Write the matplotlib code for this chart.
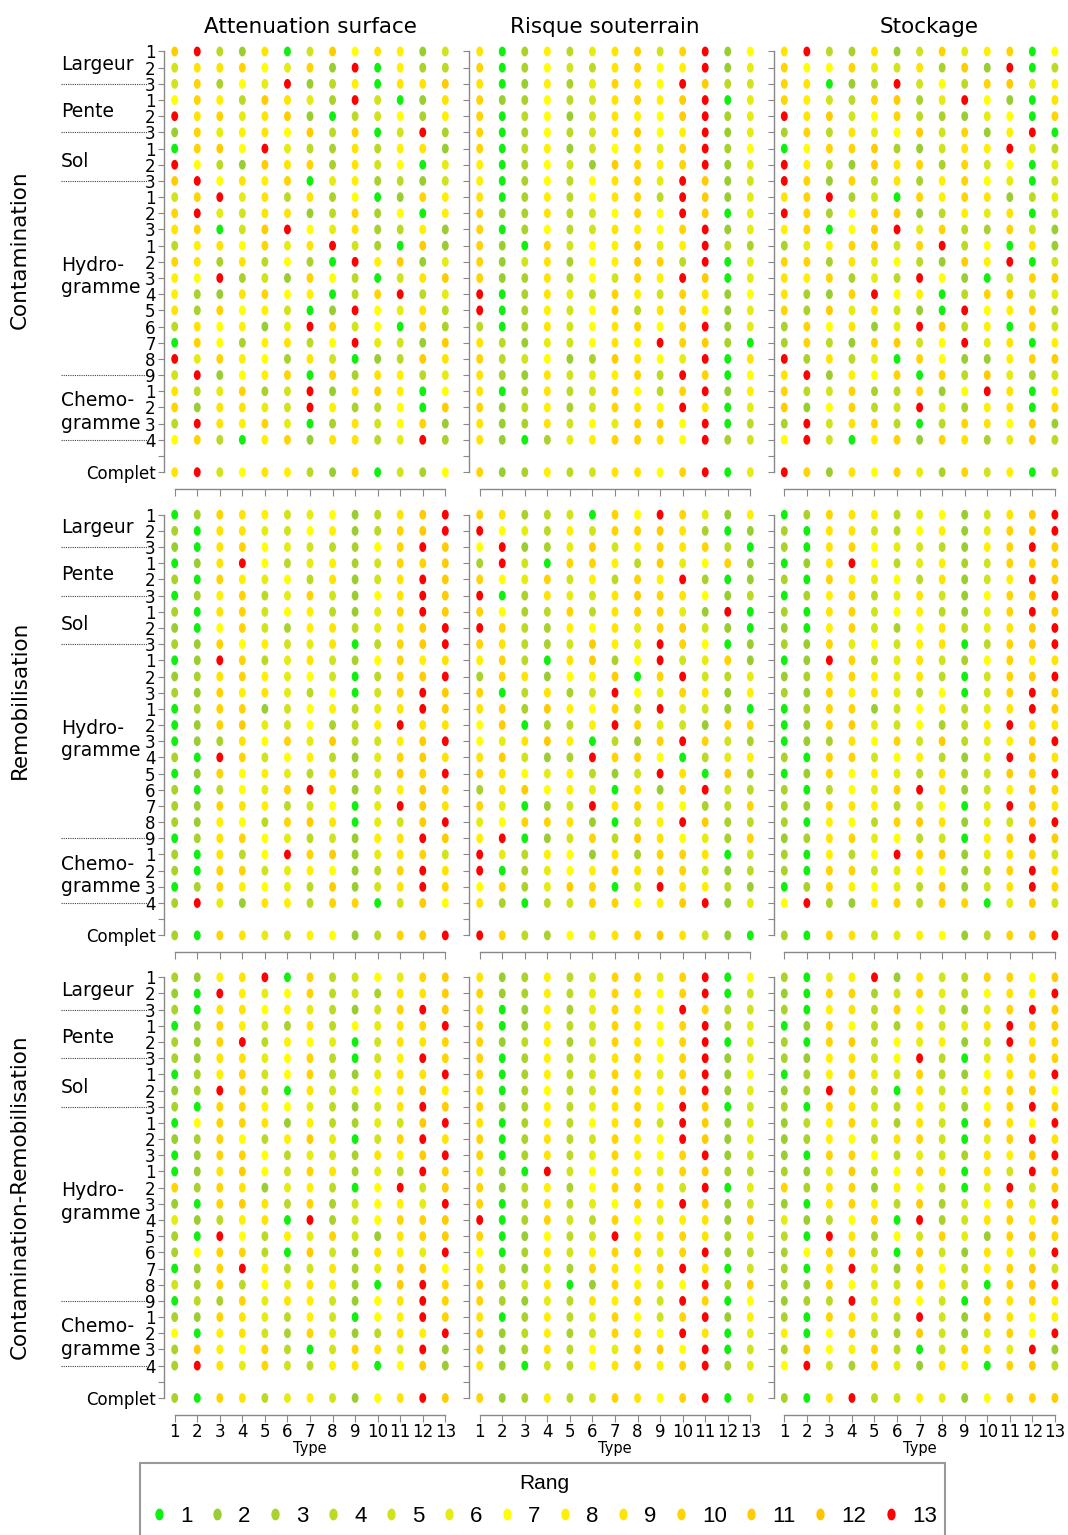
import numpy as np
import matplotlib
matplotlib.use("Agg")
import matplotlib.pyplot as plt
from matplotlib.lines import Line2D
from matplotlib.patches import Rectangle
from matplotlib.path import Path
from matplotlib.transforms import blended_transform_factory

# rank of each type (1..13), one string per parameter row, hex digits (a=10 .. d=13)
# last string of each list is the "Complet" row
CONT_ATT = [
    "bd42915b79825", "599a76a2d1834", "5a376d248199b", "7a84b963d5129", "d9a69b2145738",
    "2a6897b4a15d3", "1ab7d64394892", "d742b9a395716", "bd798a1683425", "5ad69493712a8",
    "ad659924a3718", "9a15bd7693482", "4897a69d531b2", "a9394731d8b26", "87d352a74159b",
    "8329a7814ad46", "93a78512d7694", "497826da571a3", "1a738947d652b", "d6a87395124b9",
    "5d278a1a39846", "946a35d29a817", "a29965d83471b", "4d98a613957a2", "7a418a29946d3",
    "9d579842a1537",
]
CONT_RIS = [
    "9138469a5ad27", "a137549a78d26", "912836a97db45", "a237459a8bd16", "a14725987bd36",
    "a137459b78d26", "a14825796ad37", "813752ba8ad26", "8137479a6db25", "9138479a4db26",
    "a239457a7db16", "a13745987ad26", "a21a578b68d43", "a259378ba4d16", "a239475a8db16",
    "d13964a85a927", "d13857a49a826", "4139579a7ad26", "94265798dab31", "a45723b976d19",
    "9329568a4da17", "913945a74ad28", "a24835a97d916", "9239576ab7d14", "921368aa97d35",
    "a23845997ad16",
]
CONT_STO = [
    "9d43925a68a17", "a77a6593b2d14", "a9123d574ab68", "a854ab36d7219", "d9b57a432671a",
    "3a4967b5a28d1", "17aab32598d64", "d842b9a3a5716", "da2a4938a7615", "9ad351a8a9246",
    "da37ab2486915", "8a17bd6a43a52", "368ab5ad47192", "aa396742b8d15", "98a364d7215ab",
    "932ad7814ab56", "a3b69521d78a4", "3a7926db481a5", "3a42ab57d6918", "d39461a7228ab",
    "9d287a1a4b635", "a45a34a27d918", "b27a45d63891a", "3d59a414a97b2", "7d518a2a936b4",
    "da297a63a5814",
]
REMO_ATT = [
    "13a98567249bd", "3199657824abd", "219a765437adb", "129d746835aab", "31a86749259db",
    "138a46a5279db", "319a578426adb", "217a5389469bd", "32a7856914abd", "12da469537a89",
    "239a867514abd", "32a8964715adb", "13aa2578469db", "12ab657348d99", "12397a6b458bd",
    "31da578426ab9", "12a7864935bad", "31476ad9258ba", "32a9845716db9", "32874ab9165bd",
    "139a7645289db", "31947dab269a5", "31aa568724ad9", "13a8764b259da", "3d62984aa15b7",
    "31a9658724abd",
]
REMO_RIS = [
    "a93451a7da628", "d76485aab9312", "7d236b58a9a41", "3d51aa84b67a2", "a76a584a8d312",
    "d139659ba9724", "a734a49aa62d1", "da438796ab521", "a9435b86da712", "8a419b37d56a2",
    "3a9278b1ad546", "a14935d76a928", "9a3b87a4d6521", "7b1348da652aa", "769b8142ada53",
    "9b523daa71468", "a9768425d91b3", "39b786192ad54", "a6125d9a8734a", "67aa92158db34",
    "8d125a4b9763a", "d6487293aa915", "d13678a9aa524", "7a36ba15d9842", "93145aa78bd26",
    "da43769ab9521",
]
REMO_STO = [
    "13a98467259bd", "3199547826abd", "319a765428adb", "129d746835aab", "31a86749258db",
    "138a469527abd", "319a578426adb", "218a5379469bd", "32a6758914abd", "12da469537a89",
    "239a869415abd", "32a8964715adb", "13aa2578469db", "12ab657348d99", "12397a5b468bd",
    "31aa578426db9", "12a7864935bad", "31476ad9258ba", "32a9845716db9", "31874ab9265bd",
    "239a674518adb", "31847dab269a5", "31aa568724ad9", "13a8764b259da", "7d328a4aa16b5",
    "31a9568724abd",
]
CORE_ATT = [
    "3289d1a4576ab", "21d867a45399b", "3199786425adb", "12a85394769ad", "32ad48761599a",
    "329967a4158da", "138a57a42699d", "23da4195679b8", "31aa8764259db", "17aa9284365bd",
    "23a748b615ad9", "12aa7465398bd", "129b75a9364da", "a3a9268417d5b", "21ab94a35786d",
    "624891d357aab", "31d7486a529ab", "37aa41b52986d", "12ad845936ab7", "53a4769821bda",
    "143a6985279da", "32a96485178da", "718953a62498d", "3b87a415a96d2", "3d96a548917b2",
    "31a94685279db",
]
CORE_RIS = [
    "923845aa6ad17", "a23846a97ad15", "912836a97da45", "a12845a97ad36", "a24835a97ad16",
    "a138459a7ad26", "a13845a96ad27", "913745a98ad26", "a238469a7db15", "9138479a5db26",
    "a13945a87db26", "a13946a87ad25", "921d57986ab34", "a24837ab95d16", "a139467a8db25",
    "d13a54a76892b", "a12745d89a936", "713958aa6ad24", "84263a97ad915", "a35912a867d3b",
    "a326498a5da17", "913846a75ad28", "a24835a97d916", "a239476ab7d15", "9215479a8ad36",
    "a23845a97ad16",
]
CORE_STO = [
    "3168d2954aa7b", "21aa35a64798d", "31894a7526adb", "12a7439569dab", "31ab476825d9a",
    "328957d4169aa", "138a65a42799d", "23da419569ab7", "31a9548627adb", "248a63951b97d",
    "238749a516ad9", "21aa7465398bd", "326b47a9195da", "a39a287416d5b", "219a84b357a6d",
    "6247a1d359a8b", "41d9375a62aba", "37aa41b52986d", "319d62a748ab5", "32a765a841abd",
    "234d69751a9a8", "31a964d52b978", "817a43b526a7d", "3b78a415a96d2", "7d53a62981ab4",
    "319d458627aab",
]

TYPES = list(range(1, 14))
RANKS = list(range(1, 14))
COL_TITLES = ["Attenuation surface", "Risque souterrain", "Stockage"]
ROW_TITLES = ["Contamination", "Remobilisation", "Contamination-Remobilisation"]
PANELS = [
    [CONT_ATT, CONT_RIS, CONT_STO],
    [REMO_ATT, REMO_RIS, REMO_STO],
    [CORE_ATT, CORE_RIS, CORE_STO],
]
GROUPS = ["Largeur", "Pente", "Sol", "Hydro-\ngramme", "Chemo-\ngramme"]
GROUP_TICKS = [["1", "2", "3"], ["1", "2", "3"], ["1", "2", "3"],
               ["1", "2", "3", "1", "2", "3", "4", "5", "6", "7", "8", "9"],
               ["1", "2", "3", "4"]]
RANK_COLORS = ["#0ff00f", "#9acd32", "#a9d22c", "#bcd926", "#d0e31c", "#e6ec12",
               "#ffff00", "#fff000", "#ffe400", "#ffd400", "#ffcc00", "#ffc400", "#ff0000"]

# layout (pixels)
W, H = 1068, 1535
COL_X1 = [174.7, 479.7, 784.3]
ROW_Y1 = [51.5, 514.7, 977.3]
DX, DY = 22.55, 16.18
GROUP_LABEL_Y = [1.8, 4.7, 7.8, 14.9, 23.3]
ROW_TITLE_Y = [250, 700, 1197]
TITLE_X = [310, 605, 929]

t = np.linspace(0, 2 * np.pi, 60)
ELLIPSE = Path(np.column_stack([0.7 * np.cos(t), np.sin(t)]), closed=True)

tick_labels = [lab for grp in GROUP_TICKS for lab in grp] + ["", "Complet"]
n_rows = len(tick_labels)
row_pos = list(range(1, n_rows - 1)) + [n_rows]
sep_rows = np.cumsum([len(g) for g in GROUP_TICKS])

fig = plt.figure(figsize=(W / 100, H / 100), dpi=100)

xlim = (1 - 10.7 / DX, 13.5)
ylim = (n_rows + 17 / DY, 0.5)
ax_w = (xlim[1] - xlim[0]) * DX
ax_h = (ylim[0] - ylim[1]) * DY

for i in range(3):
    for j in range(3):
        left = COL_X1[j] - 10.7
        top = ROW_Y1[i] - 0.5 * DY
        ax = fig.add_axes([left / W, 1 - (top + ax_h) / H, ax_w / W, ax_h / H])
        data = PANELS[i][j]
        xs, ys, cs = [], [], []
        for r, row in enumerate(data):
            for k, ch in enumerate(row):
                xs.append(TYPES[k])
                ys.append(row_pos[r])
                cs.append(RANK_COLORS[int(ch, 16) - 1])
        ax.scatter(xs, ys, s=50, c=cs, marker=ELLIPSE, linewidths=0)
        ax.set_xlim(*xlim)
        ax.set_ylim(*ylim)
        for side in ["top", "right"]:
            ax.spines[side].set_visible(False)
        for side in ["left", "bottom"]:
            ax.spines[side].set_color("#888888")
            ax.spines[side].set_linewidth(1)
        ax.spines["left"].set_bounds(1, n_rows)
        ax.spines["bottom"].set_bounds(1, 13)
        ax.set_yticks(range(1, n_rows + 1))
        ax.set_xticks(TYPES)
        ax.tick_params(axis="y", length=4, width=0.8, color="#888888", pad=2, labelsize=12)
        ax.tick_params(axis="x", length=5, width=0.8, color="#888888", pad=1, labelsize=12)
        if j == 0:
            ax.set_yticklabels(tick_labels)
        else:
            ax.set_yticklabels([])
        if i == 2:
            ax.set_xticklabels([str(v) for v in TYPES])
            ax.set_xlabel("Type", fontsize=10.5, labelpad=0)
        else:
            ax.set_xticklabels([])
        if i == 0:
            ax.set_title(COL_TITLES[j], fontsize=15.5, pad=7.5,
                         x=(TITLE_X[j] - left) / ax_w)

        if j == 0:
            trans = blended_transform_factory(fig.transFigure, ax.transData)
            for g, name in enumerate(GROUPS):
                ax.text(61 / W, GROUP_LABEL_Y[g], name, transform=trans, fontsize=13.5,
                        va="center", ha="left", linespacing=1.25)
                ax.add_line(Line2D([61 / W, 148 / W], [sep_rows[g], sep_rows[g]],
                                   transform=trans, color="#444444", lw=0.8,
                                   ls=(0, (1, 1)), clip_on=False))
            fig.text(20 / W, 1 - ROW_TITLE_Y[i] / H, ROW_TITLES[i], rotation=90,
                     ha="center", va="center", fontsize=15.5)

# legend
fig.add_artist(Rectangle((140 / W, 1 - 1570 / H), 805 / W, 107 / H,
                         transform=fig.transFigure, fill=False,
                         edgecolor="#999999", lw=1.5, clip_on=False))
handles = [Line2D([], [], ls="none", marker=ELLIPSE, ms=8.5, mfc=c, mec="none")
           for c in RANK_COLORS]
fig.legend(handles, [str(r) for r in RANKS], title="Rang", ncol=13,
           loc="upper left", bbox_to_anchor=(148 / W, 1 - 1471 / H - 0.05, 792 / W, 0.05),
           mode="expand", frameon=False, borderpad=0.15, borderaxespad=0,
           labelspacing=0.55, handlelength=0.7, handletextpad=0.6, columnspacing=0.5,
           prop={"family": "Liberation Sans", "size": 16},
           title_fontproperties={"family": "Liberation Sans", "size": 15})

fig.savefig("out.png", dpi=100)
